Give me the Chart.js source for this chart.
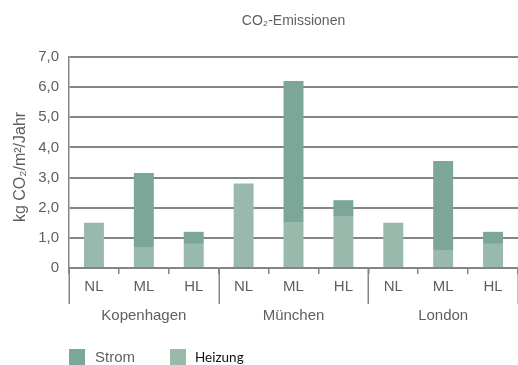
<!DOCTYPE html>
<html lang="de">
<head>
<meta charset="utf-8">
<title>CO₂-Emissionen</title>
<script src="https://cdn.jsdelivr.net/npm/chart.js@4"></script>
<style>
  html, body { margin: 0; padding: 0; background: #fff; }
  #chart { display: block; }
</style>
</head>
<body>
<canvas id="chart" width="518" height="365"></canvas>
<script>
// Emissions per building standard (NL / ML / HL) in three cities, kg CO2 per m² and year
const cities = ['Kopenhagen', 'München', 'London'];
const levels = ['NL', 'ML', 'HL'];
const categories = ['NL', 'ML', 'HL', 'NL', 'ML', 'HL', 'NL', 'ML', 'HL'];
const heizung = [1.5, 0.7, 0.8, 2.8, 1.5, 1.7, 1.5, 0.6, 0.8];
const strom   = [0, 2.45, 0.4, 0, 4.7, 0.55, 0, 2.95, 0.4];
const yTickLabels = ['0', '1,0', '2,0', '3,0', '4,0', '5,0', '6,0', '7,0'];

const titleText = 'CO₂-Emissionen';
const yAxisTitle = 'kg CO₂/m²/Jahr';

const colStrom = '#7ba698';
const colHeizung = '#99b9ad';
const textGrey = '#5f5f5f';
const lineGrey = '#858585';
const FONT = '"Liberation Sans", Arial, sans-serif';

// Title, city row, group separators, rotated axis title and legend
const decorations = {
  id: 'decorations',
  afterDraw(chart) {
    const ctx = chart.ctx;
    const x = chart.scales.x;
    const area = chart.chartArea;
    const catW = (x.right - x.left) / categories.length;
    ctx.save();

    // title
    ctx.fillStyle = textGrey;
    ctx.font = '14px ' + FONT;
    ctx.textAlign = 'center';
    ctx.textBaseline = 'middle';
    ctx.fillText(titleText, (area.left + area.right) / 2, 21);

    // long separators between the cities
    ctx.strokeStyle = lineGrey;
    ctx.lineWidth = 1.5;
    for (let g = 0; g <= cities.length; g++) {
      const px = Math.round(x.left + g * levels.length * catW) + 0.25;
      ctx.beginPath();
      ctx.moveTo(px, area.bottom);
      ctx.lineTo(px, area.bottom + 36);
      ctx.stroke();
    }

    // city names
    ctx.fillStyle = textGrey;
    ctx.font = '15px ' + FONT;
    ctx.textAlign = 'center';
    cities.forEach((c, g) => {
      const cx = x.left + (g * levels.length + levels.length / 2) * catW;
      ctx.fillText(c, cx, 316);
    });

    // y axis title
    ctx.save();
    ctx.translate(21, 167);
    ctx.rotate(-Math.PI / 2);
    ctx.font = '16px ' + FONT;
    ctx.fillText(yAxisTitle, 0, 0);
    ctx.restore();

    // legend
    ctx.textAlign = 'left';
    ctx.fillStyle = colStrom;
    ctx.fillRect(69, 349, 16, 16);
    ctx.fillStyle = colHeizung;
    ctx.fillRect(170, 349, 16, 16);
    ctx.fillStyle = textGrey;
    ctx.font = '15px ' + FONT;
    ctx.fillText('Strom', 95, 358);
    ctx.fillStyle = '#111';
    ctx.font = '13.5px Lato, "Open Sans", sans-serif';
    ctx.fillText('Heizung', 195, 358);

    ctx.restore();
  }
};

new Chart(document.getElementById('chart'), {
  type: 'bar',
  data: {
    labels: categories,
    datasets: [
      { label: 'Heizung', data: heizung, backgroundColor: colHeizung, borderWidth: 0 },
      { label: 'Strom', data: strom, backgroundColor: colStrom, borderWidth: 0 }
    ]
  },
  options: {
    responsive: false,
    animation: false,
    events: [],
    layout: { padding: { top: 57, left: 0, right: 0, bottom: 0 } },
    datasets: { bar: { barPercentage: 0.4, categoryPercentage: 1.0 } },
    plugins: { legend: { display: false }, title: { display: false }, tooltip: { enabled: false } },
    scales: {
      x: {
        stacked: true,
        afterFit(s) { s.height = 97; },
        grid: { drawOnChartArea: false, drawTicks: true, tickLength: 6, offset: true, color: lineGrey, lineWidth: 1.5 },
        border: { display: true, color: lineGrey, width: 2 },
        ticks: { color: textGrey, font: { family: FONT, size: 15 }, padding: 4, maxRotation: 0, autoSkip: false }
      },
      y: {
        stacked: true,
        min: 0,
        max: 7,
        afterFit(s) { s.width = 69; },
        grid: { color: lineGrey, lineWidth: 2, drawTicks: false },
        border: { display: true, color: lineGrey, width: 1.5 },
        ticks: {
          stepSize: 1,
          padding: 10,
          color: textGrey,
          font: { family: FONT, size: 15 },
          callback: (v, i) => yTickLabels[i]
        }
      }
    }
  },
  plugins: [decorations]
});
</script>
</body>
</html>
